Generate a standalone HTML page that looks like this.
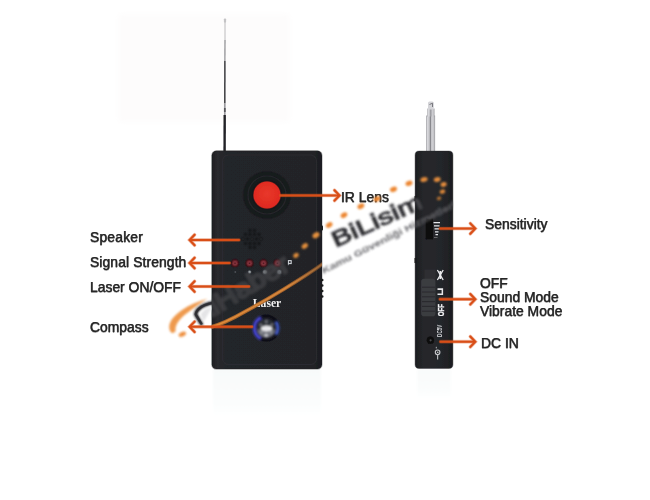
<!DOCTYPE html>
<html>
<head>
<meta charset="utf-8">
<style>
html,body{margin:0;padding:0;background:#fff;}
body{width:650px;height:500px;overflow:hidden;position:relative;font-family:"Liberation Sans",sans-serif;}
svg{position:absolute;left:0;top:0;z-index:2;}
.lbl{position:absolute;z-index:1;color:#262626;font-size:14.5px;line-height:15px;transform:scaleX(0.958);transform-origin:0 0;white-space:nowrap;-webkit-text-stroke:0.25px #262626;text-shadow:0.5px 0 rgba(34,34,34,.28),-0.5px 0 rgba(34,34,34,.28),0 0.5px rgba(34,34,34,.28),0 -0.5px rgba(34,34,34,.28);}
</style>
</head>
<body>
<svg width="650" height="500" viewBox="0 0 650 500">
  <defs>
    <filter id="b0" x="-20%" y="-50%" width="140%" height="200%"><feGaussianBlur stdDeviation="0.45"/></filter>
    <filter id="b05" x="-20%" y="-50%" width="140%" height="200%"><feGaussianBlur stdDeviation="0.65"/></filter>
    <filter id="b08" x="-20%" y="-50%" width="140%" height="200%"><feGaussianBlur stdDeviation="0.8"/></filter>
    <filter id="b1" x="-20%" y="-20%" width="140%" height="140%"><feGaussianBlur stdDeviation="0.7"/></filter>
    <filter id="b15" x="-20%" y="-20%" width="140%" height="140%"><feGaussianBlur stdDeviation="0.95"/></filter>
    <filter id="b2" x="-20%" y="-20%" width="140%" height="140%"><feGaussianBlur stdDeviation="1.2"/></filter>
    <filter id="b4" x="-20%" y="-20%" width="140%" height="140%"><feGaussianBlur stdDeviation="3"/></filter>
    <linearGradient id="refl" x1="0" x2="0" y1="0" y2="1"><stop offset="0" stop-color="#f8fafa"/><stop offset="0.7" stop-color="#fbfdfd"/><stop offset="1" stop-color="#ffffff"/></linearGradient>
    <clipPath id="clipfront"><rect x="211.8" y="150.8" width="110.2" height="218.3" rx="4.6"/></clipPath>
    <linearGradient id="bodyg" x1="0" x2="1" y1="0" y2="0">
      <stop offset="0" stop-color="#1d1e21"/><stop offset="0.05" stop-color="#292a2e"/><stop offset="0.12" stop-color="#242529"/><stop offset="0.9" stop-color="#232428"/><stop offset="1" stop-color="#1b1c1f"/>
    </linearGradient>
    <linearGradient id="sideg" x1="0" x2="1" y1="0" y2="0">
      <stop offset="0" stop-color="#1c1d20"/><stop offset="0.25" stop-color="#27282c"/><stop offset="0.8" stop-color="#232428"/><stop offset="1" stop-color="#1b1c1f"/>
    </linearGradient>
    <clipPath id="clipwhiteL"><rect x="150" y="250" width="62" height="120"/></clipPath>
    <clipPath id="clipmid"><rect x="322.5" y="150" width="92.7" height="160"/></clipPath>
    <clipPath id="clipside"><rect x="415.2" y="151.3" width="38" height="217.5" rx="4.5"/></clipPath>
    <radialGradient id="redg" cx="0.5" cy="0.45" r="0.6"><stop offset="0" stop-color="#e8382b"/><stop offset="0.8" stop-color="#e02a20"/><stop offset="1" stop-color="#d0281f"/></radialGradient>
    <linearGradient id="lineg1" gradientUnits="userSpaceOnUse" x1="205" y1="0" x2="324" y2="0"><stop offset="0" stop-color="#b06a2c"/><stop offset="0.7" stop-color="#a8642a"/><stop offset="1" stop-color="#80502c" stop-opacity="0.7"/></linearGradient>
    <linearGradient id="lineg2" gradientUnits="userSpaceOnUse" x1="205" y1="0" x2="324" y2="0"><stop offset="0" stop-color="#e8923e"/><stop offset="0.7" stop-color="#dc8c40"/><stop offset="1" stop-color="#c08040" stop-opacity="0.6"/></linearGradient>
    <linearGradient id="ant" x1="0" x2="1" y1="0" y2="0">
      <stop offset="0" stop-color="#a4a4a8"/><stop offset="0.18" stop-color="#dcdce0"/><stop offset="0.38" stop-color="#bcbcc0"/><stop offset="0.52" stop-color="#7c7c82"/><stop offset="0.62" stop-color="#d4d4d8"/><stop offset="0.85" stop-color="#c4c4c8"/><stop offset="1" stop-color="#98989c"/>
    </linearGradient>
    <g id="arrowsdef" fill="none" stroke-linecap="round" stroke-linejoin="miter">
    <path d="M239 240H190.2M194.6 234.8L189.6 240L194.6 245.2"/>
    <path d="M229.5 263H190.2M194.6 257.8L189.6 263L194.6 268.2"/>
    <path d="M249 286.5H190.2M194.6 281.3L189.6 286.5L194.6 291.7"/>
    <path d="M252 326.8H190.2M194.6 321.6L189.6 326.8L194.6 332"/>
    <path d="M280.5 195.4H338.8M334.5 190.2L339.5 195.4L334.5 200.6"/>
    <path d="M440 228.6H474.6M470.3 223.4L475.3 228.6L470.3 233.8"/>
    <path d="M440 299.2H474.6M470.3 294L475.3 299.2L470.3 304.4"/>
    <path d="M440.5 341.7H474.6M470.3 336.5L475.3 341.7L470.3 346.9"/>
  </g>
  </defs>

  <rect x="118" y="14" width="172" height="108" fill="#fdfcfc" filter="url(#b4)"/>
  <!-- reflection -->
    <rect x="213" y="369" width="108" height="48" fill="url(#refl)" filter="url(#b2)"/>
    <rect x="417" y="369" width="34" height="30" fill="url(#refl)" filter="url(#b2)" opacity="0.8"/>
  <!-- front device antenna -->
  <g id="ant1" filter="url(#b05)">
    <rect x="223.9" y="18.5" width="2.2" height="4" rx="0.8" fill="#c4c4c6"/>
    <line x1="225" y1="22" x2="225" y2="40" stroke="#b4b4b6" stroke-width="0.9"/>
    <line x1="225" y1="40" x2="224.9" y2="61" stroke="#808084" stroke-width="1.1"/>
    <line x1="224.9" y1="61" x2="224.8" y2="103" stroke="#3c3c40" stroke-width="1.5"/>
    <line x1="224.8" y1="103" x2="224.8" y2="115" stroke="#9a9a9e" stroke-width="1.7"/>
    <line x1="224.8" y1="108" x2="224.8" y2="112" stroke="#55555a" stroke-width="1.7"/>
    <line x1="224.7" y1="115" x2="224.6" y2="152" stroke="#222226" stroke-width="2.4"/>
  </g>

  <!-- front device -->
  <g id="front" filter="url(#b1)">
    <rect x="211.8" y="150.8" width="110.2" height="218.3" rx="4.6" ry="4.6" fill="url(#bodyg)" stroke="#232428" stroke-opacity="0.35" stroke-width="1.2"/>
    <g fill="#1a1b1e">
      <rect x="321" y="225.5" width="2" height="5" rx="1"/>
      <circle cx="322.2" cy="280" r="1.3"/><circle cx="322.2" cy="285.5" r="1.3"/><circle cx="322.2" cy="291" r="1.3"/><circle cx="322.2" cy="296.5" r="1.3"/>
    </g>
    <rect x="222.5" y="155" width="94" height="209.5" rx="6" fill="none" stroke="#2d2e33" stroke-width="1.2" opacity="0.75"/>
    <circle cx="267" cy="195" r="24.4" fill="#1f2024"/>
    <circle cx="267" cy="195" r="23.6" fill="#191a1d"/>
    <circle cx="267" cy="195" r="19" fill="none" stroke="#25272b" stroke-width="1.2"/>
    <circle cx="267" cy="195" r="15" fill="#17181b"/>
    <circle cx="267" cy="195" r="14.1" fill="#7a1d18" opacity="0.5"/>
    <circle cx="267" cy="195" r="13.5" fill="url(#redg)"/>
  </g>



  <!-- front details -->
  <g id="frontdet" filter="url(#b0)">
    <!-- speaker grille -->
    <g fill="#08080a" transform="translate(-1 -1)" filter="url(#b08)">
      <circle cx="251" cy="231.5" r="1.15"/><circle cx="255.5" cy="231.5" r="1.15"/>
      <circle cx="246.5" cy="235.5" r="1.15"/><circle cx="251" cy="235.5" r="1.15"/><circle cx="255.5" cy="235.5" r="1.15"/><circle cx="260" cy="235.5" r="1.15"/>
      <circle cx="244" cy="240" r="1.15"/><circle cx="248.5" cy="240" r="1.15"/><circle cx="253" cy="240" r="1.15"/><circle cx="257.5" cy="240" r="1.15"/><circle cx="262" cy="240" r="1.15"/>
      <circle cx="246.5" cy="244.5" r="1.15"/><circle cx="251" cy="244.5" r="1.15"/><circle cx="255.5" cy="244.5" r="1.15"/><circle cx="260" cy="244.5" r="1.15"/>
      <circle cx="251" cy="248.5" r="1.15"/><circle cx="255.5" cy="248.5" r="1.15"/>
    </g>
    <!-- LEDs -->
    <g fill="#34141a" opacity="0.55"><circle cx="235" cy="263.2" r="4.6"/><circle cx="249.5" cy="263.2" r="4.6"/><circle cx="263.5" cy="263.2" r="4.6"/><circle cx="277.4" cy="263.2" r="4.6"/></g>
    <g fill="#3c1419"><circle cx="235" cy="263.2" r="3.9"/><circle cx="249.5" cy="263.2" r="3.9"/><circle cx="263.5" cy="263.2" r="3.9"/><circle cx="277.4" cy="263.2" r="3.9"/></g>
    <g fill="#622028"><circle cx="235" cy="263.2" r="3.1"/><circle cx="249.5" cy="263.2" r="3.1"/><circle cx="263.5" cy="263.2" r="3.1"/><circle cx="277.4" cy="263.2" r="3.1"/></g>
    <g fill="#80303a"><circle cx="235" cy="263.2" r="2.3"/><circle cx="249.5" cy="263.2" r="2.3"/><circle cx="263.5" cy="263.2" r="2.3"/><circle cx="277.4" cy="263.2" r="2.3"/></g>
    <g fill="#4e1a22"><circle cx="235" cy="263.2" r="0.75"/><circle cx="249.5" cy="263.2" r="0.75"/><circle cx="263.5" cy="263.2" r="0.75"/><circle cx="277.4" cy="263.2" r="0.75"/></g>
    <!-- small marks -->
    <g>
      <circle cx="235.3" cy="272" r="0.9" fill="#4c4f54"/>
      <circle cx="249.6" cy="272" r="1.9" fill="#5a5e64" opacity="0.6"/><circle cx="249.6" cy="272" r="1.2" fill="#a8aeb2"/>
      <circle cx="265" cy="272" r="2.6" fill="#5a5e64" opacity="0.6"/><circle cx="265" cy="272" r="1.8" fill="#949a9e"/>
      <circle cx="279.3" cy="272" r="2.7" fill="#55595e" opacity="0.6"/><circle cx="279.3" cy="272" r="1.9" fill="#7a8086"/>
    </g>
    <rect x="288.4" y="260.6" width="2.8" height="3" fill="#3a3c42" stroke="#d8dce2" stroke-width="1"/>
    <path d="M288.4 263.6V265.2" stroke="#a8acb4" stroke-width="0.9"/>
    <!-- Laser -->
    <text x="252.8" y="307.2" font-family="Liberation Serif, serif" font-size="12" font-weight="bold" fill="#f2f2f2" textLength="28.5" lengthAdjust="spacingAndGlyphs">Laser</text>
    <!-- compass -->
    <circle cx="266.3" cy="328.1" r="13.7" fill="#101018"/>
    <g filter="url(#b08)">
      <path d="M261 317.3A12 12 0 0 0 261 338.9" fill="none" stroke="#4a48dc" stroke-width="3"/>
      <path d="M276 321.5A12 12 0 0 1 276 334.7" fill="none" stroke="#4460d4" stroke-width="2.6"/>
      <circle cx="266.3" cy="328.1" r="9.8" fill="#2b2d35"/>
      <path d="M256.8 329.5A9.6 9.6 0 0 0 275.8 329.5Z" fill="#6c6e77"/>
      <path d="M259.5 324L263 326.5M273 324L269.5 326.5M266.3 320V323.5" stroke="#8a8c94" stroke-width="1.2"/>
      <ellipse cx="266.6" cy="328.6" rx="5.6" ry="2.6" fill="#f4f4f6"/>
      <ellipse cx="266.3" cy="328.4" rx="2.6" ry="3" fill="#e8e8ec"/>
      <circle cx="266.2" cy="335.3" r="1.7" fill="#c4c6cc"/>
      <path d="M260.5 333L264 330.5M272 333L268.5 330.5" stroke="#a4a6ae" stroke-width="1.2"/>
    </g>
  </g>


  <!-- side device antenna -->
  <g id="ant2" filter="url(#b05)">
    <rect x="426" y="115.5" width="9.1" height="37" fill="url(#ant)"/>
    <rect x="427.3" y="108.5" width="7.2" height="8" fill="url(#ant)"/>
    <rect x="428" y="101.5" width="5.8" height="8" rx="1.5" fill="#d4d4d8"/>
    <path d="M429.5 104.5L432.5 103.2V107" fill="none" stroke="#77777c" stroke-width="1"/>
  </g>
  <!-- side device -->
  <g id="side" filter="url(#b1)">
    <rect x="415.1" y="151" width="37.8" height="217.4" rx="4" ry="4" fill="url(#sideg)" stroke="#232428" stroke-opacity="0.35" stroke-width="1.2"/>
  </g>

  <!-- side details -->
  <g id="sidedet" filter="url(#b0)">
    <rect x="425.5" y="218.5" width="7.5" height="21" rx="1" fill="#0e0e10"/>
    <g stroke="#e4e6ea" stroke-width="1.3">
      <path d="M433.5 222.6H440M434 225.8H439.5M434.5 228.9H439M435 231.8H438.5M435.5 234.7H438"/>
    </g>
    <g stroke="#777" stroke-width="0.8"><path d="M434 237.5H437.5"/></g>
    <!-- slider -->
    <rect x="424.6" y="269.5" width="10.8" height="10" fill="#2e2f33"/>
    <rect x="421.2" y="278.8" width="14.2" height="37.4" rx="2.8" fill="#3b3c41"/>
    <g stroke="#28282b" stroke-width="0.9"><path d="M422 287.2H435M422 292H435M422 296.8H435M422 301.6H435M422 306.4H435M422 311.2H435"/></g>
    <!-- rotated labels -->
    <text transform="translate(443.6 316.2) rotate(-90)" font-family="Liberation Sans, sans-serif" font-size="8.4" font-weight="bold" fill="#f2f2f4" stroke="#f2f2f4" stroke-width="0.3" textLength="12.3" lengthAdjust="spacingAndGlyphs">OFF</text>
    <text transform="translate(442 336.9) rotate(-90)" font-family="Liberation Sans, sans-serif" font-size="7.2" font-weight="bold" fill="#d4d4d8" textLength="12.2" lengthAdjust="spacingAndGlyphs">DC5V</text>
    <!-- bell icon -->
    <path d="M437.5 288.3h5.6v6.7h-5.6v-1.6h4.1v-3.5h-4.1z" fill="#e6e6e8"/>
    <!-- vibrate icon -->
    <path d="M437.4 270L440.3 275L437.4 280M443.2 270L440.3 275L443.2 280" fill="none" stroke="#ececee" stroke-width="1.3"/>
    <path d="M440.3 271V279" stroke="#ececee" stroke-width="1.8"/>
    <!-- DC jack -->
    <circle cx="430.4" cy="340.3" r="3.7" fill="#0b0b0c"/>
    <circle cx="430.6" cy="340.3" r="1.1" fill="#4a4a4e"/>
    <!-- polarity -->
    <circle cx="437.6" cy="352.3" r="2.3" fill="none" stroke="#c8c8cc" stroke-width="1.1"/>
    <circle cx="437.8" cy="352.3" r="0.7" fill="#f0f0f0"/>
    <path d="M437.6 355V359.6" stroke="#b8b8bc" stroke-width="1.2"/>
    <path d="M436.3 346.8V348.4" stroke="#b0b0b4" stroke-width="1"/>
    <!-- side bumps -->
    <rect x="414.5" y="196" width="1.6" height="5" fill="#1b1b1d"/>
    <rect x="414.5" y="258" width="1.6" height="5" fill="#1b1b1d"/>
  </g>

  <!-- watermark -->
  <g id="wm">
    <!-- swoosh crescent -->
    <path d="M207.5 298.8C198 301.3 189 305.3 182 310C174.5 315 169.6 320.8 169.2 326.5C169 329.8 170.3 332.3 172.4 333.2L175.6 331.5C175.2 329.2 175.6 326.8 176.6 324.6C178.6 320.4 182.4 316.6 187.5 312.8C193 308.6 199 304.4 207.5 298.8Z" fill="#ee9444" opacity="0.95" filter="url(#b08)"/>
    <ellipse cx="182.4" cy="334.3" rx="3.8" ry="2.2" transform="rotate(-25 182.4 334.3)" fill="#ee8e3c" filter="url(#b08)"/>
    <!-- swoosh line -->
    <g clip-path="url(#clipfront)">
      <path d="M205 328.8C215 326.5 228 321.5 245 311.6C265 300.8 302 279 324 263" fill="none" stroke="url(#lineg1)" stroke-width="3.8" stroke-linecap="round" filter="url(#b1)"/>
      <path d="M205 328.8C215 326.5 228 321.5 245 311.6C265 300.8 302 279 324 263" fill="none" stroke="url(#lineg2)" stroke-width="1.7" stroke-linecap="round" filter="url(#b05)" opacity="0.85"/>
    </g>
    <!-- dots -->
    <g fill="#f09a45" filter="url(#b08)">
      <ellipse cx="296" cy="255.4" rx="3" ry="2.2" transform="rotate(-35 296 255.4)" fill="#dc8a3a"/>
      <ellipse cx="304.8" cy="246" rx="3.4" ry="2.4" transform="rotate(-35 304.8 246)" fill="#e08c3a"/>
      <ellipse cx="316" cy="235.2" rx="3.8" ry="2.6" transform="rotate(-33 316 235.2)" fill="#e4903c"/>
      <ellipse cx="329.2" cy="225" rx="3.6" ry="2.5" transform="rotate(-35 329.2 225)" fill="#ec8630"/>
      <ellipse cx="344" cy="215.2" rx="3.6" ry="2.5" transform="rotate(-32 344 215.2)" fill="#ec8630"/>
      <ellipse cx="360.9" cy="206.3" rx="3.6" ry="2.5" transform="rotate(-28 360.9 206.3)" fill="#ec8630"/>
      <ellipse cx="377" cy="199" rx="3.6" ry="2.5" transform="rotate(-25 377 199)" fill="#ec8630"/>
      <ellipse cx="393.5" cy="189.4" rx="3.6" ry="2.5" transform="rotate(-22 393.5 189.4)" fill="#ec8630"/>
      <ellipse cx="409" cy="183.3" rx="3.6" ry="2.5" transform="rotate(-18 409 183.3)" fill="#ec8630"/>
      <ellipse cx="424" cy="179.5" rx="3.7" ry="2.4" transform="rotate(-14 424 179.5)" fill="#e48c3c"/>
      <ellipse cx="437.2" cy="179.6" rx="3.5" ry="2.4" transform="rotate(-12 437.2 179.6)" fill="#e48c3c"/>
      <ellipse cx="443.6" cy="184.5" rx="3.1" ry="2.3" transform="rotate(-20 443.6 184.5)" fill="#e48c3c"/>
      <ellipse cx="442.4" cy="191.6" rx="2.8" ry="2.1" transform="rotate(-20 442.4 191.6)" fill="#dc8638"/>
      <ellipse cx="439" cy="198.3" rx="2.3" ry="1.7" transform="rotate(-20 439 198.3)" fill="#c87a34" opacity="0.9"/>
    </g>
    <!-- Bilisim -->
    <g clip-path="url(#clipmid)">
      <text transform="translate(335.6 247.6) rotate(-24.5)" font-family="Liberation Sans, sans-serif" font-size="21.5" fill="#2d2d30" stroke="#2d2d30" stroke-width="1" filter="url(#b08)" textLength="97" lengthAdjust="spacingAndGlyphs">BiLisim</text>
      <text transform="translate(323.5 274) rotate(-26.8)" font-family="Liberation Sans, sans-serif" font-size="9.5" font-weight="bold" fill="#66666a" filter="url(#b15)" textLength="149" lengthAdjust="spacingAndGlyphs">Kamu Güvenliği Hizmetleri</text>
    </g>
    <g clip-path="url(#clipside)" opacity="0.8">
      <text transform="translate(335.6 247.6) rotate(-24.5)" font-family="Liberation Sans, sans-serif" font-size="21.5" fill="#505054" stroke="#505054" stroke-width="0.9" filter="url(#b2)" textLength="97" lengthAdjust="spacingAndGlyphs">BiLisim</text>
      <text transform="translate(323.5 274) rotate(-26.8)" font-family="Liberation Sans, sans-serif" font-size="9.5" font-weight="bold" fill="#5e5e62" stroke="#5e5e62" stroke-width="0.6" filter="url(#b2)" textLength="149" lengthAdjust="spacingAndGlyphs">Kamu Güvenliği Hizmetleri</text>
    </g>
    <!-- AlHaber -->
    <g clip-path="url(#clipwhiteL)" filter="url(#b08)">
      <path d="M212.5 306.5L205.5 309L200.5 314L203.5 322Z" fill="#e4e4e6"/>
      <path d="M201.3 323.6L195.8 314.6C195.3 311.5 200 307 204.6 305.2C207.5 304 210 303.3 213 302.8" fill="none" stroke="#25252b" stroke-width="3.7" stroke-linecap="round" stroke-linejoin="round"/>
    </g>
    <g clip-path="url(#clipwhiteL)">
      <path d="M201.3 323.6L195.8 314.6C195.3 311.5 200 307 204.6 305.2C207.5 304 210 303.3 213 302.8" fill="none" stroke="#2a2a30" stroke-width="2.4" stroke-linecap="round" stroke-linejoin="round" opacity="0.8"/>
    </g>
    <g clip-path="url(#clipfront)" opacity="0.32">
      <text transform="translate(197 325) rotate(-31)" font-family="Liberation Sans, sans-serif" font-size="25" fill="none" stroke="#505055" stroke-width="2.2" filter="url(#b2)" textLength="110" lengthAdjust="spacingAndGlyphs">AlHaber</text>
    </g>
  </g>
    <g clip-path="url(#clipfront)" opacity="0.5">
      <text transform="translate(199 325.5) rotate(-31)" font-family="Liberation Sans, sans-serif" font-size="26" fill="none" stroke="#48484c" stroke-width="2" filter="url(#b2)" textLength="108" lengthAdjust="spacingAndGlyphs">AlHaber</text>
    </g>
  </g>
  <!-- arrows -->
  <use href="#arrowsdef" stroke="#dc5a24" stroke-width="3.7" stroke-opacity="0.28"/>
  <use href="#arrowsdef" stroke="#dc5a24" stroke-width="2.9" stroke-opacity="0.4"/>
  <use href="#arrowsdef" stroke="#d94e17" stroke-width="2"/>

  
</svg>

<div class="lbl" style="left:90px;top:229.9px;letter-spacing:0.2px;">Speaker</div>
<div class="lbl" style="left:90px;top:255px;letter-spacing:0.1px;">Signal Strength</div>
<div class="lbl" style="left:90px;top:280.2px;">Laser ON/OFF</div>
<div class="lbl" style="left:90px;top:319.7px;">Compass</div>
<div class="lbl" style="left:341.3px;top:189.8px;">IR Lens</div>
<div class="lbl" style="left:484.6px;top:216.5px;">Sensitivity</div>
<div class="lbl" style="left:479.8px;top:277.4px;line-height:13.6px;">OFF<br>Sound Mode<br>Vibrate Mode</div>
<div class="lbl" style="left:480.5px;top:336px;">DC IN</div>
</body>
</html>
